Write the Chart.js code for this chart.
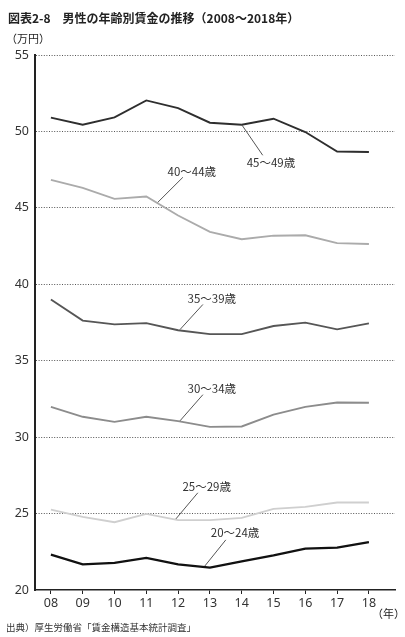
<!DOCTYPE html>
<html lang="ja">
<head>
    <meta charset="UTF-8">
    <script src="https://cdn.jsdelivr.net/npm/chart.js"></script>
    <style>
        body {
            margin: 0;
            padding: 0;
            background: #fff;
            font-family: "Noto Sans CJK JP", "Noto Sans", sans-serif;
            color: #222;
        }

        .wrap {
            position: relative;
            width: 405px;
            height: 637px;
        }

        .title {
            position: absolute;
            left: 8px;
            top: 9px;
            font-size: 12px;
            font-weight: bold;
            white-space: nowrap;
        }

        .unit {
            position: absolute;
            left: 6px;
            top: 30px;
            font-size: 11px;
        }

        .nen {
            position: absolute;
            left: 372px;
            top: 605px;
            font-size: 11px;
        }

        .source {
            position: absolute;
            left: 6px;
            top: 620px;
            font-size: 9.5px;
            color: #333;
        }
    </style>
    <title>男性の年齢別賃金の推移</title>
</head>
<body>
    <div class="wrap">
        <canvas id="wageChart" width="405" height="637"></canvas>
        <div class="title">図表2-8　男性の年齢別賃金の推移（2008～2018年）</div>
        <div class="unit">（万円）</div>
        <div class="nen">（年）</div>
        <div class="source">出典）厚生労働省「賃金構造基本統計調査」</div>
    </div>
    <script>
        const years = ["08", "09", "10", "11", "12", "13", "14", "15", "16", "17", "18"];
        const yTicks = [20, 25, 30, 35, 40, 45, 50, 55];

        const age45to49 = [50.9, 50.44, 50.92, 52.03, 51.53, 50.57, 50.44, 50.83, 49.96, 48.69, 48.65];
        const age40to44 = [46.83, 46.31, 45.59, 45.74, 44.5, 43.43, 42.95, 43.18, 43.21, 42.69, 42.64];
        const age35to39 = [39.0, 37.62, 37.38, 37.46, 36.99, 36.74, 36.74, 37.27, 37.49, 37.05, 37.44];
        const age30to34 = [31.98, 31.33, 31.0, 31.33, 31.05, 30.67, 30.7, 31.47, 31.98, 32.27, 32.25];
        const age25to29 = [25.26, 24.78, 24.43, 24.98, 24.57, 24.57, 24.72, 25.31, 25.44, 25.72, 25.72];
        const age20to24 = [22.31, 21.68, 21.77, 22.1, 21.68, 21.46, 21.88, 22.27, 22.71, 22.77, 23.13];

        const seriesNames = ["45～49歳", "40～44歳", "35～39歳", "30～34歳", "25～29歳", "20～24歳"];

        // label + leader line, in data units (year index, 万円)
        const callouts = [
            { text: "45～49歳", from: [6.0, 50.44], to: [6.66, 48.44], at: [6.92, 47.98] },
            { text: "40～44歳", from: [3.36, 45.36], to: [4.15, 47.0], at: [4.43, 47.39] },
            { text: "35～39歳", from: [4.06, 37.04], to: [4.78, 38.68], at: [5.06, 39.07] },
            { text: "30～34歳", from: [4.06, 31.07], to: [4.78, 32.78], at: [5.06, 33.17] },
            { text: "25～29歳", from: [3.93, 24.65], to: [4.62, 26.36], at: [4.9, 26.75] },
            { text: "20～24歳", from: [4.84, 21.57], to: [5.5, 23.28], at: [5.79, 23.74] }
        ];

        function toPoints(values) {
            return values.map((v, i) => ({ x: i, y: v }));
        }

        const calloutPlugin = {
            id: "callouts",
            afterDatasetsDraw(chart) {
                const ctx = chart.ctx;
                const xs = chart.scales.x;
                const ys = chart.scales.y;
                ctx.save();
                ctx.strokeStyle = "#555";
                ctx.lineWidth = 1;
                ctx.fillStyle = "#333";
                ctx.font = "11.5px 'Noto Sans CJK JP', sans-serif";
                ctx.textAlign = "center";
                ctx.textBaseline = "middle";
                callouts.forEach(c => {
                    ctx.beginPath();
                    ctx.moveTo(xs.getPixelForValue(c.from[0]), ys.getPixelForValue(c.from[1]));
                    ctx.lineTo(xs.getPixelForValue(c.to[0]), ys.getPixelForValue(c.to[1]));
                    ctx.stroke();
                    ctx.fillText(c.text, xs.getPixelForValue(c.at[0]), ys.getPixelForValue(c.at[1]));
                });
                ctx.restore();
            }
        };

        const colors = ["#2e2e2e", "#ababab", "#565656", "#8c8c8c", "#cfcfcf", "#111111"];
        const widths = [1.9, 1.9, 1.9, 1.9, 1.9, 2.3];
        const allSeries = [age45to49, age40to44, age35to39, age30to34, age25to29, age20to24];

        new Chart(document.getElementById("wageChart"), {
            type: "line",
            data: {
                datasets: allSeries.map((s, i) => ({
                    label: seriesNames[i],
                    data: toPoints(s),
                    borderColor: colors[i],
                    borderWidth: widths[i],
                    pointRadius: 0,
                    fill: false,
                    tension: 0
                }))
            },
            options: {
                responsive: false,
                animation: false,
                layout: {
                    padding: { top: 55, right: 10, bottom: 0, left: 0 }
                },
                plugins: {
                    legend: { display: false },
                    tooltip: { enabled: false }
                },
                scales: {
                    x: {
                        type: "linear",
                        min: -0.5,
                        max: 10.82,
                        afterFit(scale) { scale.height = 47; },
                        afterBuildTicks(scale) {
                            scale.ticks = years.map((y, i) => ({ value: i }));
                        },
                        ticks: {
                            callback: (v) => years[v],
                            color: "#333",
                            padding: 2,
                            maxRotation: 0,
                            font: { family: "'Noto Sans', sans-serif", size: 12.5 }
                        },
                        grid: {
                            drawOnChartArea: false,
                            tickLength: 4,
                            color: "#222"
                        },
                        border: { color: "#222", width: 1.5 }
                    },
                    y: {
                        min: 20,
                        max: 55,
                        afterFit(scale) { scale.width = 35; },
                        afterBuildTicks(scale) {
                            scale.ticks = yTicks.map(v => ({ value: v }));
                        },
                        ticks: {
                            color: "#333",
                            padding: 6,
                            font: { family: "'Noto Sans', sans-serif", size: 12.5 }
                        },
                        grid: {
                            drawTicks: false,
                            color: (c) => c.tick && c.tick.value === 20 ? "rgba(0,0,0,0)" : "#555",
                            lineWidth: 1
                        },
                        border: { color: "#222", width: 2, dash: [1, 1.6] }
                    }
                }
            },
            plugins: [calloutPlugin]
        });
    </script>
</body>
</html>
